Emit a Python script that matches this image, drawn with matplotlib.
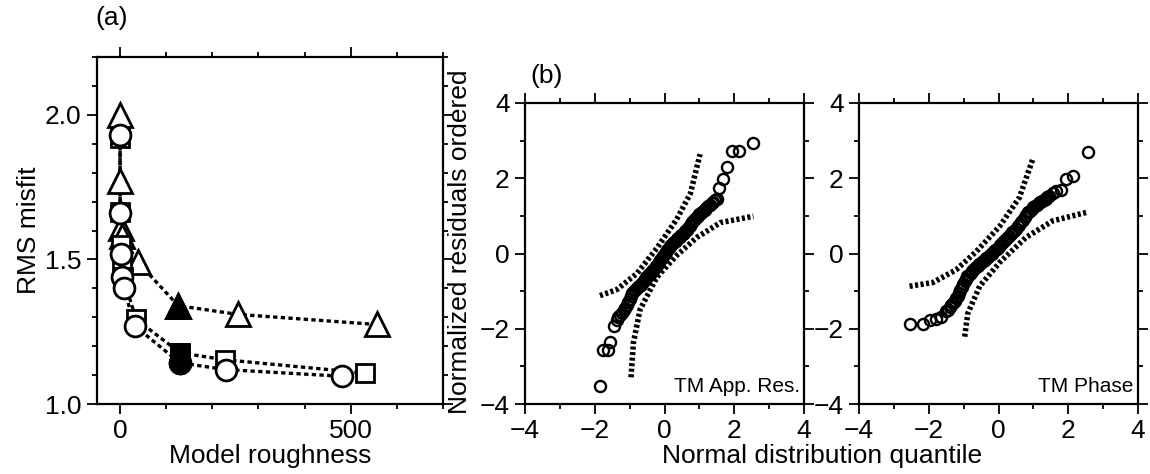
import matplotlib
matplotlib.use("Agg")
import matplotlib.pyplot as plt
from matplotlib.ticker import MultipleLocator

plt.rcParams['font.family'] = ['Liberation Sans', 'DejaVu Sans']
plt.rcParams['axes.linewidth'] = 1.6

# (a) L-curves: model roughness vs RMS misfit, three settings
tri_x = [0, 0, 2, 5, 39, 126, 255, 556]
tri_y = [2.00, 1.77, 1.61, 1.58, 1.49, 1.34, 1.31, 1.275]
sq_x = [0, 0, 2, 4, 6, 35, 130, 227, 531]
sq_y = [1.92, 1.665, 1.55, 1.48, 1.44, 1.293, 1.177, 1.153, 1.107]
circ_x = [0, 0, 2, 5, 8, 32, 130, 230, 480]
circ_y = [1.93, 1.66, 1.52, 1.44, 1.40, 1.27, 1.142, 1.119, 1.096]
chosen_tri = 5
chosen_sq = 6
chosen_circ = 6

# (b) QQ plots: normal quantile vs ordered normalized residual
app_q = [-1.85, -1.75, -1.63, -1.56, -1.46, -1.37, -1.32,
         -1.27, -1.22, -1.17, -1.12, -1.08, -1.04, -1.00, -0.96, -0.92, -0.88,
         -0.84, -0.80, -0.76, -0.72, -0.68, -0.64, -0.60, -0.56, -0.52, -0.48,
         -0.44, -0.40, -0.36, -0.32, -0.28, -0.24, -0.20, -0.16, -0.12, -0.08,
         -0.04, 0.00, 0.04, 0.08, 0.12, 0.16, 0.20, 0.24, 0.28, 0.32,
         0.36, 0.40, 0.44, 0.48, 0.52, 0.56, 0.60, 0.64, 0.68, 0.72,
         0.76, 0.80, 0.84, 0.88, 0.92, 0.96, 1.00, 1.05, 1.10, 1.15,
         1.20, 1.25, 1.30, 1.35, 1.40, 1.46, 1.50,
         1.55, 1.69, 1.79, 1.93, 2.15, 2.55]
app_r = [-3.53, -2.57, -2.57, -2.36, -1.92, -1.78, -1.70,
         -1.63, -1.57, -1.50, -1.44, -1.36, -1.29, -1.21, -1.13, -1.06, -1.00,
         -0.96, -0.93, -0.90, -0.87, -0.83, -0.78, -0.73, -0.68, -0.63, -0.59,
         -0.55, -0.51, -0.47, -0.43, -0.38, -0.33, -0.27, -0.22, -0.16, -0.11,
         -0.06, -0.01, 0.05, 0.10, 0.15, 0.19, 0.23, 0.27, 0.31, 0.34,
         0.38, 0.41, 0.45, 0.48, 0.52, 0.55, 0.59, 0.63, 0.68, 0.73,
         0.79, 0.84, 0.88, 0.92, 0.96, 1.00, 1.04, 1.08, 1.12, 1.16,
         1.21, 1.25, 1.29, 1.33, 1.37, 1.42, 1.44,
         1.73, 1.97, 2.31, 2.72, 2.72, 2.95]
app_up_q = [-1.85, -1.37, -0.79, -0.22, 0.35, 0.74, 1.02]
app_up_r = [-1.12, -0.96, -0.53, 0.14, 0.91, 1.59, 2.64]
app_lo_q = [-0.96, -0.89, -0.70, -0.22, 0.35, 0.93, 1.60, 2.55]
app_lo_r = [-3.29, -2.36, -1.49, -0.63, -0.05, 0.43, 0.82, 0.99]

ph_q = [-2.55, -2.17, -1.95, -1.79, -1.64, -1.50,
        -1.45, -1.40, -1.35, -1.30, -1.25, -1.21, -1.17, -1.13, -1.09, -1.05,
        -1.01, -0.97, -0.93, -0.89, -0.85, -0.80, -0.75, -0.70, -0.65, -0.60,
        -0.55, -0.50, -0.45, -0.40, -0.35, -0.30, -0.25, -0.20, -0.15, -0.10,
        -0.05, 0.00, 0.05, 0.10, 0.15, 0.20, 0.25, 0.30, 0.35, 0.40,
        0.45, 0.50, 0.55, 0.60, 0.65, 0.70, 0.75, 0.80, 0.85, 0.90,
        0.95, 1.00, 1.05, 1.10, 1.15, 1.20, 1.25, 1.30, 1.35, 1.40,
        1.46, 1.56, 1.66, 1.80, 1.94, 2.15, 2.56]
ph_r = [-1.875, -1.875, -1.78, -1.73, -1.68, -1.54,
        -1.49, -1.43, -1.37, -1.31, -1.25, -1.19, -1.12, -1.05, -0.97, -0.89,
        -0.81, -0.74, -0.67, -0.61, -0.56, -0.51, -0.46, -0.41, -0.36, -0.32,
        -0.28, -0.24, -0.20, -0.16, -0.12, -0.08, -0.04, 0.00, 0.04, 0.08,
        0.13, 0.17, 0.22, 0.27, 0.32, 0.36, 0.41, 0.46, 0.51, 0.56,
        0.61, 0.66, 0.72, 0.77, 0.83, 0.89, 0.96, 1.03, 1.09, 1.14,
        1.19, 1.23, 1.27, 1.30, 1.33, 1.36, 1.39, 1.42, 1.45, 1.49,
        1.54, 1.62, 1.65, 1.68, 1.99, 2.05, 2.69]
ph_up_q = [-2.55, -1.88, -1.21, -0.64, 0.03, 0.60, 0.98]
ph_up_r = [-0.87, -0.77, -0.43, 0.05, 0.72, 1.49, 2.50]
ph_lo_q = [-0.97, -0.88, -0.54, 0.03, 0.79, 1.56, 2.51]
ph_lo_r = [-2.21, -1.59, -0.87, -0.24, 0.43, 0.87, 1.09]

FS = 19

fig = plt.figure(figsize=(11.5, 4.74), dpi=100)
W, H = 1150, 474


def px_axes(l, t, r, b):
    return fig.add_axes([l / W, 1 - b / H, (r - l) / W, (b - t) / H])


def gmt_ticks(ax):
    ax.tick_params(which='both', direction='out', top=True, right=True,
                   labeltop=False, labelright=False, width=1.3, labelsize=FS,
                   colors='black')
    ax.tick_params(which='major', length=7, pad=4)
    ax.tick_params(which='minor', length=3.5)


def minus_fmt(v, pos):
    return f'{v:.0f}'.replace('-', '\u2212')


ax_a = px_axes(97, 57, 443, 404)
line_kw = dict(color='black', linestyle=(0, (1.3, 1.0)), linewidth=2.4)
mk_kw = dict(markeredgecolor='black', markeredgewidth=2.0, linestyle='none')
for xs, ys, mk, ms, idx in [(tri_x, tri_y, '^', 17, chosen_tri),
                            (sq_x, sq_y, 's', 13, chosen_sq),
                            (circ_x, circ_y, 'o', 15, chosen_circ)]:
    ax_a.plot(xs, ys, **line_kw, zorder=2)
    ax_a.plot(xs, ys, marker=mk, markersize=ms, markerfacecolor='white', **mk_kw, zorder=3)
    ax_a.plot([xs[idx]], [ys[idx]], marker=mk, markersize=ms,
              markerfacecolor='black', **mk_kw, zorder=4)
ax_a.set_xlim(-50, 700)
ax_a.set_ylim(1.0, 2.2)
ax_a.xaxis.set_major_locator(MultipleLocator(500))
ax_a.xaxis.set_minor_locator(MultipleLocator(100))
ax_a.yaxis.set_major_locator(MultipleLocator(0.5))
ax_a.yaxis.set_minor_locator(MultipleLocator(0.1))
ax_a.yaxis.set_major_formatter(plt.FormatStrFormatter('%.1f'))
gmt_ticks(ax_a)
ax_a.set_ylabel('RMS misfit', fontsize=FS, labelpad=3)
fig.text(270 / W, 1 - 456 / H, 'Model roughness', fontsize=FS,
         ha='center', va='center')
fig.text(95 / W, 1 - 18 / H, '(a)', fontsize=FS, ha='left', va='center')

band_kw = dict(color='black', linestyle=(0, (0.55, 0.45)), linewidth=4.0,
               solid_capstyle='butt', dash_capstyle='butt')
qq_kw = dict(marker='o', markersize=8, markerfacecolor='none',
             markeredgecolor='black', markeredgewidth=1.7, linestyle='none')

ax_b1 = px_axes(525, 103, 804, 404)
ax_b2 = px_axes(859, 103, 1138, 404)
for ax, q, r, uq, ur, lq, lr, label in [
        (ax_b1, app_q, app_r, app_up_q, app_up_r, app_lo_q, app_lo_r, 'TM App. Res.'),
        (ax_b2, ph_q, ph_r, ph_up_q, ph_up_r, ph_lo_q, ph_lo_r, 'TM Phase')]:
    ax.plot(uq, ur, **band_kw)
    ax.plot(lq, lr, **band_kw)
    ax.plot(q, r, **qq_kw)
    ax.set_xlim(-4, 4)
    ax.set_ylim(-4, 4)
    ax.xaxis.set_major_locator(MultipleLocator(2))
    ax.xaxis.set_minor_locator(MultipleLocator(1))
    ax.yaxis.set_major_locator(MultipleLocator(2))
    ax.yaxis.set_minor_locator(MultipleLocator(1))
    ax.xaxis.set_major_formatter(plt.FuncFormatter(minus_fmt))
    ax.yaxis.set_major_formatter(plt.FuncFormatter(minus_fmt))
    gmt_ticks(ax)
    ax.text(0.985, 0.025, label, transform=ax.transAxes, ha='right', va='bottom',
            fontsize=15)

fig.text(460 / W, 1 - 242 / H, 'Normalized residuals ordered', fontsize=FS,
         rotation=90, ha='center', va='center')
fig.text(822 / W, 1 - 456 / H, 'Normal distribution quantile', fontsize=FS,
         ha='center', va='center')
fig.text(530 / W, 1 - 76 / H, '(b)', fontsize=FS, ha='left', va='center')

fig.savefig('out.png', dpi=100)
